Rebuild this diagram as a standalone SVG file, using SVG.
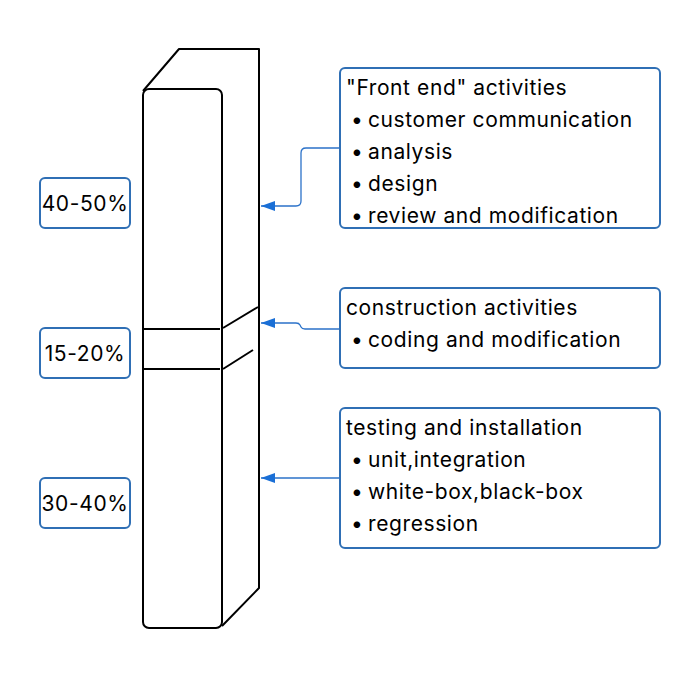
<svg xmlns="http://www.w3.org/2000/svg" width="700" height="676" viewBox="0 0 700 676">
<defs>
<style>
.t{font-family:Inter,"Noto Sans","Liberation Sans",sans-serif;font-size:21px;letter-spacing:0.6px;fill:#000}
.box{fill:#fff;stroke:#2f6fb5;stroke-width:2}
.col{fill:none;stroke:#000;stroke-width:2;stroke-linejoin:round}
.con{fill:none;stroke:#2b72c9;stroke-width:1.3}
</style>
<marker id="ah" viewBox="0 0 14 10" refX="0" refY="5" markerWidth="14" markerHeight="10" markerUnits="userSpaceOnUse" orient="auto">
<path d="M0,5 L14,0 L14,10 Z" fill="#1a6fd6"/>
</marker>
</defs>
<rect width="700" height="676" fill="#fff"/>
<g id="column">
<path class="col" d="M143,91 L179,49 L259,49 L259,588 L222,626"/>
<rect class="col" x="143" y="89" width="79" height="539" rx="6" fill="#fff"/>
<path class="col" d="M143,329 L220,329 M223,328 L258,307 M143,369 L220,369 M223,369 L253,350"/>
</g>
<g id="connectors">
<path class="con" marker-start="url(#ah)" d="M261,206 L296,206 Q301,206 301,201 L301,153 Q301,148 306,148 L340,148"/>
<path class="con" marker-start="url(#ah)" d="M261,323 L296,323 Q299,323 300,325 L301,327 Q302,329 305,329 L340,329"/>
<path class="con" marker-start="url(#ah)" d="M261,478 L340,478"/>
</g>
<g id="label-40-50">
<rect class="box" x="40" y="178" width="90" height="50" rx="5"/>
<text class="t" x="85" y="211" text-anchor="middle">40-50%</text>
</g>
<g id="label-15-20">
<rect class="box" x="40" y="328" width="90" height="50" rx="5"/>
<text class="t" x="85" y="361" text-anchor="middle">15-20%</text>
</g>
<g id="label-30-40">
<rect class="box" x="40" y="478" width="90" height="50" rx="5"/>
<text class="t" x="85" y="511" text-anchor="middle">30-40%</text>
</g>
<g id="front-end">
<rect class="box" x="340" y="68" width="320" height="160" rx="5"/>
<text class="t" x="346" y="95">"Front end" activities</text>
<text class="t" y="127"><tspan x="351">•</tspan><tspan x="368">customer communication</tspan></text>
<text class="t" y="159"><tspan x="351">•</tspan><tspan x="368">analysis</tspan></text>
<text class="t" y="191"><tspan x="351">•</tspan><tspan x="368">design</tspan></text>
<text class="t" y="223"><tspan x="351">•</tspan><tspan x="368">review and modification</tspan></text>
</g>
<g id="construction">
<rect class="box" x="340" y="288" width="320" height="80" rx="5"/>
<text class="t" x="346" y="315">construction activities</text>
<text class="t" y="347"><tspan x="351">•</tspan><tspan x="368">coding and modification</tspan></text>
</g>
<g id="testing">
<rect class="box" x="340" y="408" width="320" height="140" rx="5"/>
<text class="t" x="346" y="435">testing and installation</text>
<text class="t" y="467"><tspan x="351">•</tspan><tspan x="368">unit,integration</tspan></text>
<text class="t" y="499"><tspan x="351">•</tspan><tspan x="368">white-box,black-box</tspan></text>
<text class="t" y="531"><tspan x="351">•</tspan><tspan x="368">regression</tspan></text>
</g>
</svg>
